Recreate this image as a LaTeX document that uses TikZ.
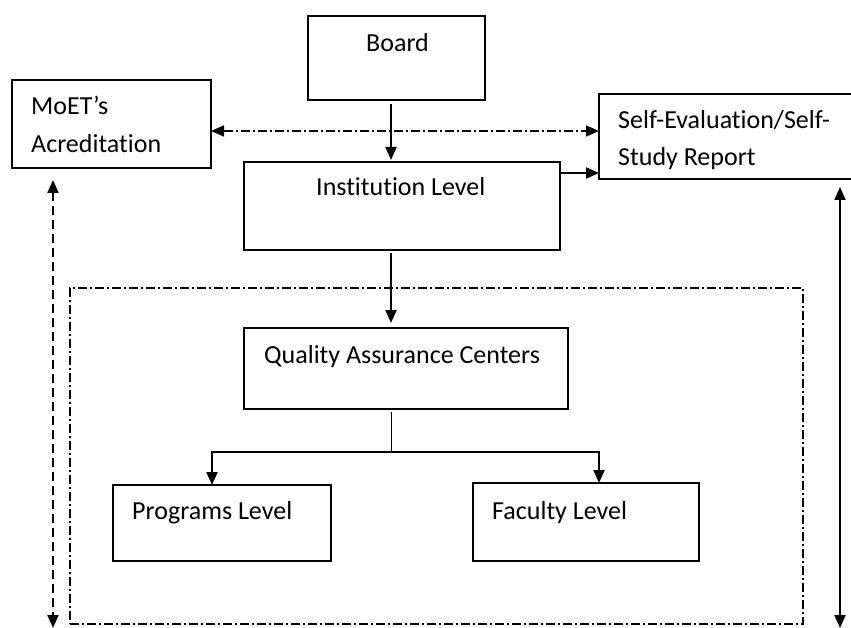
\documentclass[tikz,border=0pt]{standalone}
\usepackage{fontspec}
\setmainfont{Carlito}[RawFeature=-liga]
\usetikzlibrary{arrows.meta}
\begin{document}
\begin{tikzpicture}[x=1pt,y=-1pt,
  box/.style={draw, line width=1.5pt, rectangle, inner sep=0pt, outer sep=0pt, anchor=north west},
  txt/.style={anchor=base west, inner sep=0pt, font=\fontsize{26}{32}\selectfont},
  tip/.tip={Triangle[length=13pt,width=11pt]},
  arr/.style={line width=2pt, -tip},
  darr/.style={line width=2pt, tip-tip},
  dashdot/.style={dash pattern=on 9pt off 3pt on 2pt off 3pt},
  ]
\useasboundingbox (0,0) rectangle (851,628);
\clip (0,0) rectangle (851,628);

% boxes
\node[box, minimum width=177pt, minimum height=84pt] (board) at (308,16) {};
\node[box, minimum width=199pt, minimum height=88pt] (moet) at (12,80) {};
\node[box, minimum width=316pt, minimum height=88pt] (inst) at (244,162) {};
\node[box, minimum width=270pt, minimum height=85pt] (self) at (599,94) {};
\node[box, minimum width=324pt, minimum height=81pt] (qa) at (244,328) {};
\node[box, minimum width=218pt, minimum height=76pt] (prog) at (113,485) {};
\node[box, minimum width=226pt, minimum height=78pt] (fac) at (473,483) {};
\node[box, dashdot, line width=1.2pt, minimum width=733pt, minimum height=336pt] (grp) at (70,288) {};

% texts
\node[txt] (tboard) at (366,52) {Board};
\node[txt] (tmoet1) at (31,115) {MoET’s};
\node[txt] (tmoet2) at (31,153) {Acreditation};
\node[txt] (tinst) at (316,196) {Institution Level};
\node[txt] (tself1) at (618,129) {Self-Evaluation/Self-};
\node[txt] (tself2) at (618,166) {Study Report};
\node[txt] (tqa) at (264,363) {Quality Assurance Centers};
\node[txt] (tprog) at (132,519) {Programs Level};
\node[txt] (tfac) at (492,519) {Faculty Level};

% helper coordinates
\coordinate (xa) at (391,0);
\coordinate (ya) at (0,131);
\coordinate (yb) at (0,173);
\coordinate (ys) at (0,452);
\coordinate (xp) at (212,0);
\coordinate (xf) at (599,0);
\coordinate (xl) at (53,0);
\coordinate (xr) at (840,0);
\coordinate (ybot) at (0,628);

% connectors
\draw[arr, shorten <=4pt, shorten >=2pt] (board.south -| xa) -- (inst.north -| xa);
\draw[darr, dashdot, line width=1.5pt] (moet.east |- ya) -- (self.west |- ya);
\draw[arr] (inst.east |- yb) -- (self.west |- yb);
\draw[arr, shorten <=3pt, shorten >=5pt] (inst.south -| xa) -- (qa.north -| xa);
\draw[line width=1pt, shorten <=3pt] (qa.south -| xa) -- (xa |- ys);
\draw[arr] (xa |- ys) -| (prog.north -| xp);
\draw[arr] (xa |- ys) -| (fac.north -| xf);
\draw[darr, line width=2.2pt, dash pattern=on 9pt off 5pt, shorten <=12pt] (moet.south -| xl) -- (xl |- ybot);
\draw[darr, shorten <=8pt] (self.south -| xr) -- (xr |- ybot);
\end{tikzpicture}
\end{document}
